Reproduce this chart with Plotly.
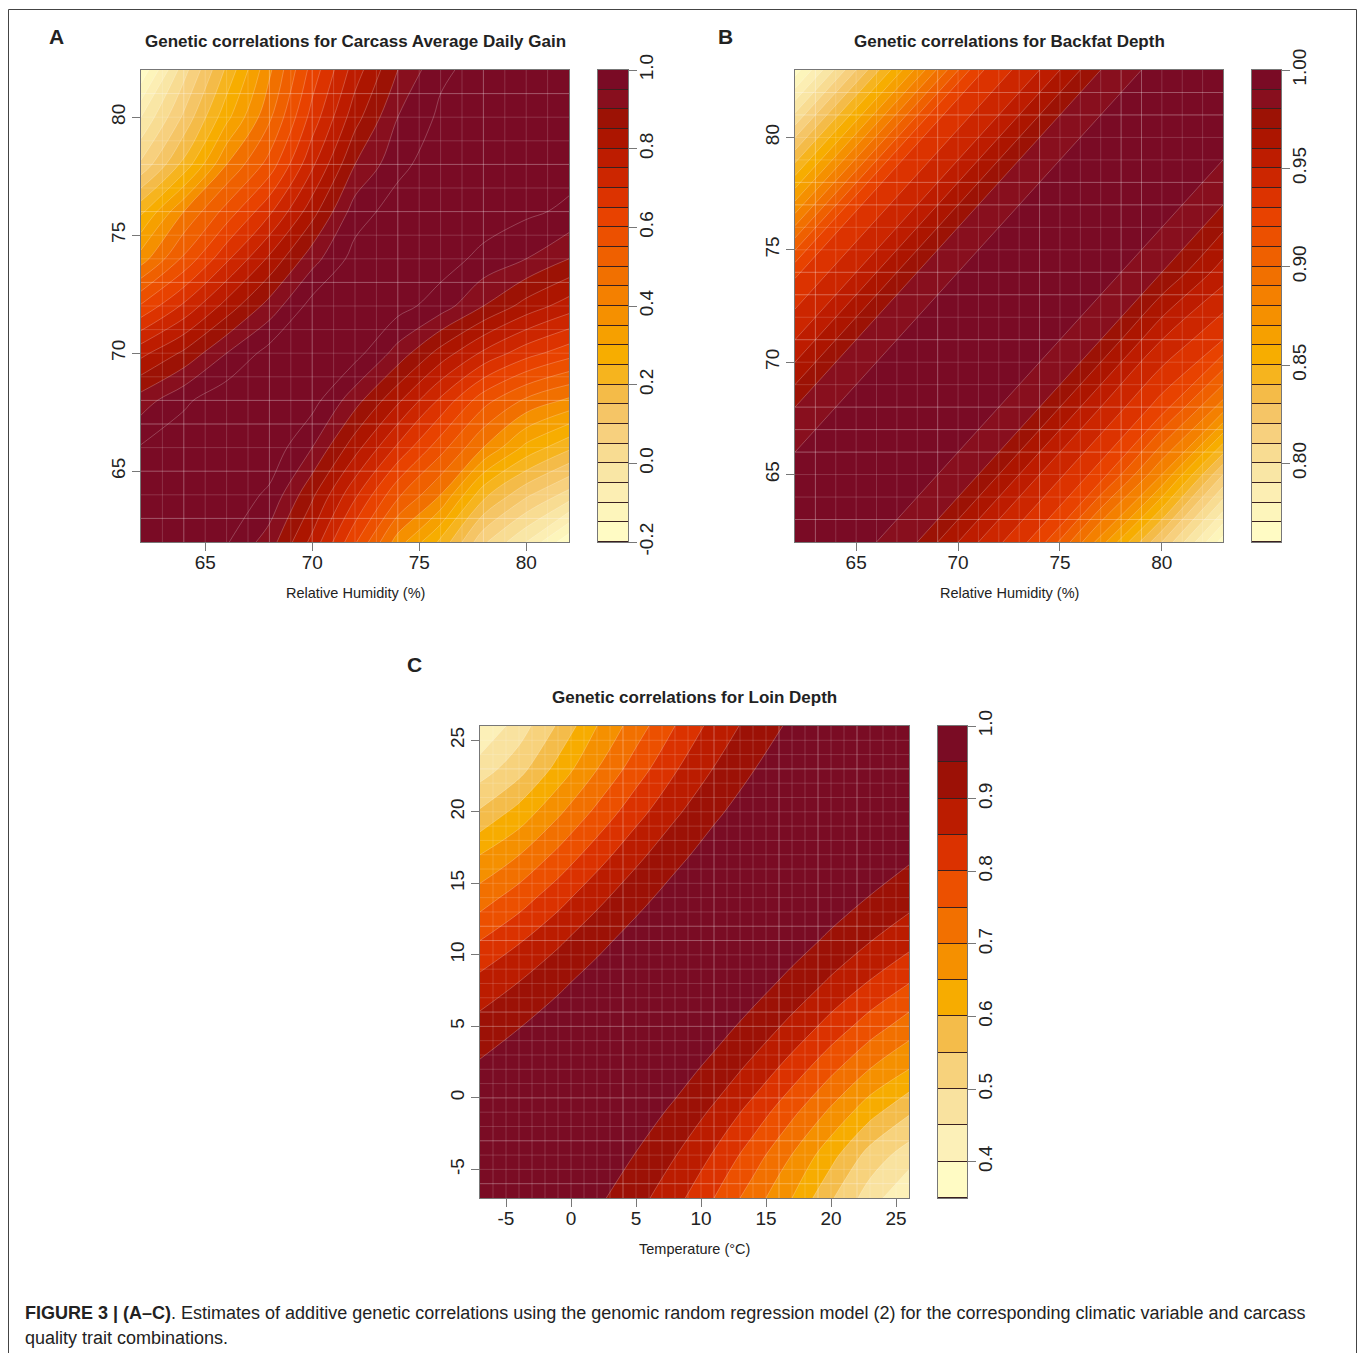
import plotly.graph_objects as go

W, H = 1358, 1353
FONT = "Liberation Sans"
INK = "#222222"
FRAME = "#777777"

a_x = [62, 64, 66, 68, 70, 72, 74, 76, 78, 80, 82]
a_y = [62, 64, 66, 68, 70, 72, 74, 76, 78, 80, 82]
a_z = [
    [1.00, .995, .955, .875, .735, .557, .375, .24, .06, -.05, -.19],
    [.995, 1.00, .985, .94, .81, .66, .51, .40, .215, .11, .03],
    [.955, .985, 1.00, .985, .90, .77, .64, .52, .40, .285, .21],
    [.875, .94, .985, 1.00, .97, .87, .76, .64, .52, .44, .39],
    [.735, .81, .90, .97, 1.00, .97, .88, .78, .69, .62, .57],
    [.557, .66, .77, .87, .97, 1.00, .97, .925, .85, .78, .725],
    [.375, .51, .64, .76, .88, .97, 1.00, .975, .935, .90, .85],
    [.24, .40, .52, .64, .78, .925, .975, 1.00, .98, .96, .94],
    [.06, .215, .40, .52, .69, .85, .935, .98, 1.00, .99, .97],
    [-.05, .11, .285, .44, .62, .78, .90, .96, .99, 1.00, .99],
    [-.19, .03, .21, .39, .57, .725, .85, .94, .97, .99, 1.00],
]
b_x = [62, 65, 68, 71, 74, 77, 80, 83]
b_y = [62, 65, 68, 71, 74, 77, 80, 83]
b_z = [
    [1.00, .995, .98, .95, .925, .875, .82, .765],
    [.995, 1.00, .995, .98, .95, .925, .88, .82],
    [.98, .995, 1.00, .995, .98, .95, .925, .885],
    [.95, .98, .995, 1.00, .995, .98, .95, .93],
    [.928, .95, .98, .995, 1.00, .995, .98, .955],
    [.873, .928, .95, .98, .995, 1.00, .995, .98],
    [.82, .873, .928, .95, .98, .995, 1.00, .995],
    [.765, .82, .873, .928, .95, .98, .995, 1.00],
]
c_x = [-7, -4, -1, 2, 5, 8, 11, 14, 17, 20, 23, 26]
c_y = [-7, -4, -1, 2, 5, 8, 11, 14, 17, 20, 23, 26]
# Loin depth correlations read along each off-diagonal of the symmetric surface.
c_diagonals = [
    [1.0] * 12,
    [.998, .997, .996, .995, .995, .995, .995, .995, .996, .997, .998],
    [.99, .983, .977, .973, .971, .971, .973, .977, .983, .99],
    [.96, .948, .94, .935, .933, .935, .94, .948, .96],
    [.918, .902, .891, .886, .886, .891, .902, .918],
    [.868, .845, .831, .827, .831, .845, .868],
    [.80, .775, .762, .762, .775, .80],
    [.725, .699, .69, .699, .725],
    [.65, .618, .618, .65],
    [.556, .53, .556],
    [.475, .475],
    [.40],
]

a_ticks_x = [65, 70, 75, 80]
a_ticks_y = [65, 70, 75, 80]
b_ticks_x = [65, 70, 75, 80]
b_ticks_y = [65, 70, 75, 80]
c_ticks_x = [-5, 0, 5, 10, 15, 20, 25]
c_ticks_y = [-5, 0, 5, 10, 15, 20, 25]
a_key_ticks = [-0.2, 0.0, 0.2, 0.4, 0.6, 0.8, 1.0]
b_key_ticks = [0.80, 0.85, 0.90, 0.95, 1.00]
c_key_ticks = [0.4, 0.5, 0.6, 0.7, 0.8, 0.9, 1.0]

colors_24 = ["#fffbc4", "#fdf5bb", "#fceeb3", "#f9e6a5", "#f8dc92", "#f7d07e",
             "#f5c566", "#f4bb48", "#f6b41e", "#f7ad00", "#f6a000", "#f59000",
             "#f48000", "#f17000", "#ef6000", "#ec5000", "#e84200", "#dc3300",
             "#cc2600", "#bd1c00", "#ac1500", "#9c1205", "#880f1e", "#7a0b25"]
colors_13 = ["#fffbc4", "#fcf0b8", "#f9e29f", "#f7d27c", "#f4bc4a", "#f7ac00",
             "#f59000", "#f27000", "#ec5000", "#db3200", "#bb1c00", "#9c1106",
             "#7a0c24"]

a_strong_x = [64, 68, 70, 74, 78]
a_strong_y = [63, 65, 67, 68, 73, 76, 78, 81]
b_strong_x = [63, 69, 74, 78, 79]
b_strong_y = [63, 66, 67, 68, 71, 73, 74, 77, 78, 81, 82]
c_strong_x = [4, 11, 16, 19, 22]
c_strong_y = [-6, -3, 0, 5, 6, 11, 12, 23]


def from_diagonals(diags):
    size = len(diags)
    out = [[0.0] * size for _ in range(size)]
    for k, vals in enumerate(diags):
        for j, v in enumerate(vals):
            out[j + k][j] = v
            out[j][j + k] = v
    return out


def stepped(colors):
    n = len(colors)
    scale = []
    for i, c in enumerate(colors):
        scale += [[i / n, c], [(i + 1) / n, c]]
    return scale


def fx(p):
    return p / W


def fy(p):
    return 1 - p / H


def labels(vals, fmt):
    return [format(v, fmt) for v in vals]


panels = [
    dict(x=a_x, y=a_y, z=a_z, colors=colors_24, lo=-0.2, hi=1.0, step=0.05,
         box=(141, 569), key=(598, 628), v=(70, 542), tx=a_ticks_x, ty=a_ticks_y,
         kt=a_key_ticks, kf=".1f", sx=a_strong_x, sy=a_strong_y),
    dict(x=b_x, y=b_y, z=b_z, colors=colors_24, lo=0.76, hi=1.0, step=0.01,
         box=(795, 1223), key=(1252, 1281), v=(70, 542), tx=b_ticks_x, ty=b_ticks_y,
         kt=b_key_ticks, kf=".2f", sx=b_strong_x, sy=b_strong_y),
    dict(x=c_x, y=c_y, z=from_diagonals(c_diagonals), colors=colors_13, lo=0.35, hi=1.0,
         step=0.05, box=(480, 909), key=(938, 967), v=(726, 1198), tx=c_ticks_x,
         ty=c_ticks_y, kt=c_key_ticks, kf=".1f", sx=c_strong_x, sy=c_strong_y),
]

fig = go.Figure()
layout = {}
axis_style = dict(showgrid=False, zeroline=False, showline=True, mirror=True,
                  automargin=False, linecolor=FRAME, linewidth=1, ticks="outside",
                  ticklen=8, tickcolor=FRAME, tickwidth=1,
                  tickfont=dict(family=FONT, size=19, color=INK))


def seg_trace(vals_x, vals_y, alpha, xa, ya):
    return go.Scatter(x=vals_x, y=vals_y, mode="lines", xaxis=xa, yaxis=ya,
                      line=dict(color=f"rgba(255,255,255,{alpha})", width=1),
                      hoverinfo="skip", showlegend=False)


for i, p in enumerate(panels):
    n1, n2 = 2 * i + 1, 2 * i + 2
    xa, ya = f"x{n1}", f"y{n1}"
    kxa, kya = f"x{n2}", f"y{n2}"
    x0, x1 = p["x"][0], p["x"][-1]
    y0, y1 = p["y"][0], p["y"][-1]
    fig.add_trace(go.Contour(
        x=p["x"], y=p["y"], z=p["z"], xaxis=xa, yaxis=ya,
        zmin=p["lo"], zmax=p["hi"], colorscale=stepped(p["colors"]), showscale=False,
        contours=dict(coloring="fill", start=p["lo"], end=p["hi"], size=p["step"]),
        line=dict(color="rgba(255,255,255,0.33)", width=0.7, smoothing=1),
        hoverinfo="skip"))
    fx_seg, fy_seg = [], []
    for v in range(x0 + 1, x1):
        fx_seg += [v, v, None]
        fy_seg += [y0, y1, None]
    for v in range(y0 + 1, y1):
        fx_seg += [x0, x1, None]
        fy_seg += [v, v, None]
    fig.add_trace(seg_trace(fx_seg, fy_seg, 0.16, xa, ya))
    sx_seg, sy_seg = [], []
    for v in p["sx"]:
        sx_seg += [v, v, None]
        sy_seg += [y0, y1, None]
    for v in p["sy"]:
        sx_seg += [x0, x1, None]
        sy_seg += [v, v, None]
    fig.add_trace(seg_trace(sx_seg, sy_seg, 0.18, xa, ya))

    n = len(p["colors"])
    edges = [p["lo"] + k * p["step"] for k in range(n + 1)]
    mids = [p["lo"] + (k + 0.5) * p["step"] for k in range(n)]
    fig.add_trace(go.Heatmap(
        x=[0, 1], y=edges, z=[[m] for m in mids], xaxis=kxa, yaxis=kya,
        zmin=p["lo"], zmax=p["hi"], colorscale=stepped(p["colors"]), showscale=False,
        ygap=1, hoverinfo="skip"))

    dom_y = [fy(p["v"][1]), fy(p["v"][0])]
    layout[f"xaxis{n1}"] = dict(axis_style, domain=[fx(p["box"][0]), fx(p["box"][1])],
                                range=[x0, x1], tickvals=p["tx"],
                                ticktext=labels(p["tx"], "d"), ticklabelstandoff=-5,
                                anchor=ya)
    layout[f"yaxis{n1}"] = dict(axis_style, domain=dom_y, range=[y0, y1],
                                tickvals=p["ty"], ticktext=labels(p["ty"], "d"),
                                tickangle=-90, ticklabelstandoff=-1, anchor=xa)
    layout[f"xaxis{n2}"] = dict(domain=[fx(p["key"][0]), fx(p["key"][1])], range=[0, 1],
                                showgrid=False, zeroline=False, showticklabels=False,
                                automargin=False, ticks="", showline=True, mirror=True,
                                linecolor=FRAME, anchor=kya)
    layout[f"yaxis{n2}"] = dict(axis_style, domain=dom_y, range=[p["lo"], p["hi"]],
                                tickvals=p["kt"], ticktext=labels(p["kt"], p["kf"]),
                                tickangle=-90, ticklabelstandoff=-7, side="right",
                                anchor=kxa)


def note(text, x, y, size, bold=False, anchor="center"):
    return dict(text=f"<b>{text}</b>" if bold else text, x=fx(x), y=fy(y),
                xref="paper", yref="paper", xanchor=anchor, yanchor="middle",
                showarrow=False, font=dict(family=FONT, size=size, color=INK))


annotations = [
    note("A", 57, 36, 21, True),
    note("B", 725, 36, 21, True),
    note("C", 414, 664, 21, True),
    note("Genetic correlations for Carcass Average Daily Gain", 355, 41.5, 17, True),
    note("Genetic correlations for Backfat Depth", 1009, 41.5, 17, True),
    note("Genetic correlations for Loin Depth", 694, 697.5, 17, True),
    note("Relative Humidity (%)", 355, 593, 14.5),
    note("Relative Humidity (%)", 1009, 593, 14.5),
    note("Temperature (°C)", 694, 1249, 14.5),
    note("<b>FIGURE 3 | (A–C)</b>. Estimates of additive genetic correlations using the "
         "genomic random regression model (2) for the corresponding climatic variable and carcass",
         23, 1313, 18, False, "left"),
    note("quality trait combinations.", 23, 1338, 18, False, "left"),
]

border = [dict(type="path", xref="paper", yref="paper",
               path=f"M {fx(8.5)} 0 L {fx(8.5)} {fy(9.5)} L {fx(1356.5)} {fy(9.5)} L {fx(1356.5)} 0",
               line=dict(color="#444444", width=1))]

fig.update_layout(width=W, height=H, margin=dict(l=0, r=0, t=0, b=0),
                  paper_bgcolor="white", plot_bgcolor="#3a2020", showlegend=False,
                  annotations=annotations, shapes=border, **layout)
fig.write_html("out.html", post_script="document.body.style.margin='0';",
               config={"displayModeBar": False})
